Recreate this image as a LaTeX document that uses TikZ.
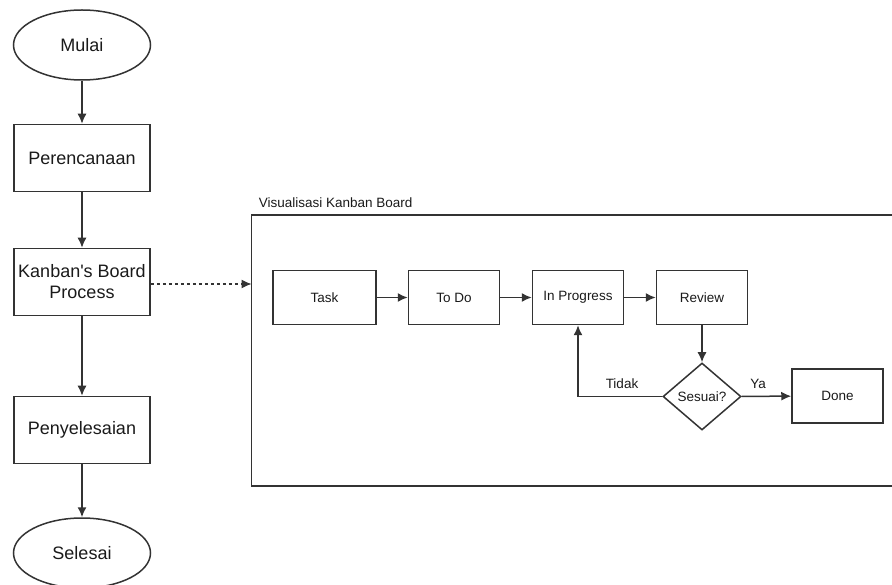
\documentclass[tikz,border=0pt]{standalone}
\usepackage{fontspec}
\setmainfont{Liberation Sans}
\usetikzlibrary{arrows.meta,shapes.geometric}
\definecolor{ln}{HTML}{333333}
\definecolor{tx}{HTML}{1A1A1A}
\begin{document}
\begin{tikzpicture}[x=1pt,y=-1pt,
  line width=1.5pt,
  every node/.style={text=tx},
  bigbox/.style={draw=ln,rectangle,minimum width=136pt,minimum height=67pt,inner sep=0pt,font=\fontsize{18}{21}\selectfont,align=center},
  term/.style={draw=ln,ellipse,minimum width=137pt,minimum height=70pt,inner sep=0pt,font=\fontsize{18}{21}\selectfont},
  smallbox/.style={draw=ln,rectangle,minimum width=91pt,minimum height=54pt,inner sep=0pt,font=\fontsize{13.5}{16}\selectfont},
  dec/.style={draw=ln,diamond,minimum width=78pt,minimum height=67pt,inner sep=0pt,font=\fontsize{13.5}{16}\selectfont},
  lbl/.style={font=\fontsize{13.5}{16}\selectfont,inner sep=0pt},
  arr/.style={draw=ln,-{Latex[length=10pt,width=9pt]}}
]
\useasboundingbox (0,0) rectangle (892,585);
\begin{scope}
\clip (0,0) rectangle (892,585);
\node[term] (mulai) at (82,45) {Mulai};
\node[bigbox] (plan) at (82,158) {Perencanaan};
\node[bigbox] (kanban) at (82,282) {Kanban\textquotesingle s Board\\Process};
\node[bigbox] (selesaikan) at (82,430) {Penyelesaian};
\node[term] (selesai) at (82,553) {Selesai};

\draw[ln] (900,215) -- (251.5,215) -- (251.5,486) -- (900,486);
\coordinate (frame) at (251.5,284);
\node[lbl,anchor=base west] (title) at (258,208) {Visualisasi Kanban Board};

\node[smallbox,minimum width=103pt] (task) at (324.5,297.5) {Task};
\node[smallbox] (todo) at (454,297.5) {To Do};
\node[smallbox] (prog) at (578,297.5) {In Progress};
\node[smallbox] (rev) at (702,297.5) {Review};
\node[dec] (ok) at (702,396.5) {Sesuai?};
\node[smallbox] (done) at (837.5,396) {Done};

\draw[arr] (mulai) -- (plan);
\draw[arr] (plan) -- (kanban);
\draw[arr] (kanban) -- (selesaikan);
\draw[arr] (selesaikan) -- (selesai);
\draw[arr,dashed,line width=1.1pt] (kanban.east |- frame) -- (frame);

\draw[arr] (task) -- (todo);
\draw[arr] (todo) -- (prog);
\draw[arr] (prog) -- (rev);
\draw[arr] (rev) -- (ok);
\draw[arr] (ok) -- (done);
\draw[arr] (ok.west) -| (prog.south);
\node[lbl] (tidak) at (622,384) {Tidak};
\node[lbl] (ya) at (758,384) {Ya};
\end{scope}
\end{tikzpicture}
\end{document}
